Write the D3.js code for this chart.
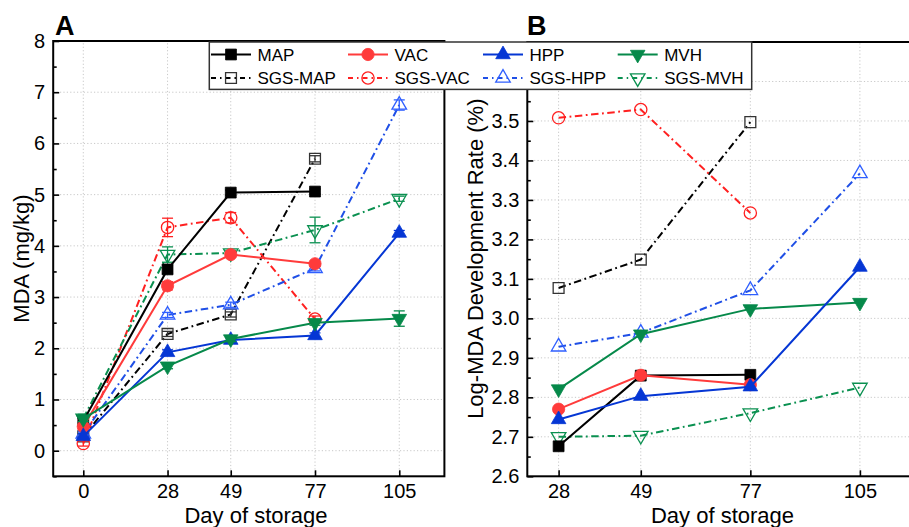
<!DOCTYPE html>
<html><head><meta charset="utf-8">
<script src="https://cdn.jsdelivr.net/npm/d3@7"></script>
<style>body{margin:0;background:#fff}svg{display:block;font-family:"Liberation Sans",Arial,sans-serif}</style>
</head><body><svg id="c" width="909" height="527"></svg>
<script>
// ---------- data ----------
const daysA = [0, 28, 49, 77, 105];
const daysB = [28, 49, 77, 105];
const yTicksA = [0, 1, 2, 3, 4, 5, 6, 7, 8];
const yTicksB = [2.6, 2.7, 2.8, 2.9, 3.0, 3.1, 3.2, 3.3, 3.4, 3.5, 3.6];
const seriesNames = ["MAP", "VAC", "HPP", "MVH", "SGS-MAP", "SGS-VAC", "SGS-HPP", "SGS-MVH"];

// Panel A: MDA (mg/kg)
const mdaMAP    = [0.58, 3.54, 5.04, 5.06];
const mdaVAC    = [0.47, 3.22, 3.83, 3.65];
const mdaHPP    = [0.28, 1.92, 2.16, 2.25, 4.25];
const mdaMVH    = [0.62, 1.65, 2.18, 2.50, 2.58];
const mdaSgsMAP = [0.28, 2.28, 2.66, 5.70];
const mdaSgsVAC = [0.14, 4.36, 4.55, 2.57];
const mdaSgsHPP = [0.33, 2.65, 2.85, 3.56, 6.75];
const mdaSgsMVH = [0.63, 3.83, 3.86, 4.31, 4.92];
// Panel A error bars
const errMAP    = [0.05, 0.08, 0.05, 0.05];
const errVAC    = [0.05, 0.08, 0.05, 0.05];
const errHPP    = [0.05, 0.05, 0.05, 0.05, 0.05];
const errMVH    = [0.05, 0.05, 0.05, 0.05, 0.15];
const errSgsMAP = [0.05, 0.05, 0.05, 0.06];
const errSgsVAC = [0.05, 0.18, 0.10, 0.06];
const errSgsHPP = [0.05, 0.05, 0.05, 0.05, 0.10];
const errSgsMVH = [0.08, 0.15, 0.05, 0.25, 0.05];

// Panel B: Log-MDA development rate (%)
const rateMAP    = [2.676, 2.855, 2.857];
const rateVAC    = [2.770, 2.856, 2.832];
const rateHPP    = [2.744, 2.803, 2.827, 3.130];
const rateMVH    = [2.821, 2.960, 3.024, 3.040];
const rateSgsMAP = [3.077, 3.149, 3.497];
const rateSgsVAC = [3.508, 3.529, 3.267];
const rateSgsHPP = [2.928, 2.963, 3.071, 3.367];
const rateSgsMVH = [2.700, 2.703, 2.760, 2.825];

// ---------- styles ----------
const RED = "#ff3b3b", BLUE = "#0536d4", GREEN = "#06894a";
const style = {
  "MAP":     {color: "#000", sym: "square",  open: false},
  "VAC":     {color: RED,   sym: "circle",  open: false},
  "HPP":     {color: BLUE,  sym: "up",      open: false},
  "MVH":     {color: GREEN, sym: "down",    open: false},
  "SGS-MAP": {color: "#000", sym: "square", open: true, mcolor: "#333"},
  "SGS-VAC": {color: "#ff2020", sym: "circle", open: true},
  "SGS-HPP": {color: "#1f4fe6", sym: "up",  open: true, mcolor: "#2f5fff"},
  "SGS-MVH": {color: "#0a9050", sym: "down", open: true}
};
const DASH = "7.5,3.5,1.8,3.5";

const svg = d3.select("#c");

function symbolPath(sym) {
  if (sym === "square") return d3.symbol(d3.symbolSquare, 118)();
  if (sym === "circle") return d3.symbol(d3.symbolCircle, 118)();
  return d3.symbol(d3.symbolTriangle, 92)();
}
function drawMarker(g, name, x, y) {
  const s = style[name];
  const mc = s.mcolor || s.color;
  g.append("path").attr("d", symbolPath(s.sym))
    .attr("transform", `translate(${x},${y})` + (s.sym === "down" ? " rotate(180)" : ""))
    .attr("fill", s.open ? "none" : s.color)
    .attr("stroke", mc).attr("stroke-width", s.open ? 1.3 : 0.8);
}

function panel(opt) {
  const {x, y, xTicks, yTicks, yMinor, fmt} = opt;
  const [x0, x1] = x.range(), [y0, y1] = y.range();
  const g = svg.append("g");
  // grid
  const grid = g.append("g").attr("stroke", "#c8c8c8").attr("stroke-width", 1).attr("stroke-dasharray", "1.2,2.2");
  grid.selectAll(".gx").data(xTicks).join("line")
    .attr("x1", d => x(d)).attr("x2", d => x(d)).attr("y1", y0).attr("y2", y1);
  grid.selectAll(".gy").data(yTicks.filter(v => y(v) > y1 + 2 && y(v) < y0 - 2)).join("line")
    .attr("x1", x0).attr("x2", x1).attr("y1", d => y(d)).attr("y2", d => y(d));
  // axes
  const ax = g.append("g").attr("transform", `translate(0,${y0})`)
    .call(d3.axisBottom(x).tickValues(xTicks).tickSize(-6).tickPadding(7.5));
  const ay = g.append("g").attr("transform", `translate(${x0},0)`)
    .call(d3.axisLeft(y).tickValues(yTicks).tickFormat(fmt).tickSize(-6).tickPadding(8));
  const aym = g.append("g").attr("transform", `translate(${x0},0)`)
    .call(d3.axisLeft(y).tickValues(yMinor).tickFormat("").tickSize(-3.5));
  [ax, ay, aym].forEach(a => {
    a.select(".domain").remove();
    a.attr("font-size", 20).attr("font-family", null);
    a.selectAll(".tick line").attr("stroke", "#000").attr("stroke-width", 1.6);
    a.selectAll(".tick text").attr("fill", "#000");
  });
  return g;
}

function drawSeries(g, x, y, name, xs, ys, errs) {
  const s = style[name];
  const pts = ys.map((v, i) => [xs[i], v, errs ? errs[i] : 0]);
  g.append("path").datum(pts)
    .attr("d", d3.line().x(d => x(d[0])).y(d => y(d[1])))
    .attr("fill", "none").attr("stroke", s.color)
    .attr("stroke-width", 2)
    .attr("stroke-dasharray", s.open ? DASH : null);
  pts.forEach(p => {
    if (errs) {
      const cx = x(p[0]), ya = y(p[1] + p[2]), yb = y(p[1] - p[2]);
      const eg = g.append("g").attr("stroke", s.mcolor || s.color).attr("stroke-width", 1.3);
      eg.append("line").attr("x1", cx).attr("x2", cx).attr("y1", ya).attr("y2", yb);
      eg.append("line").attr("x1", cx - 5.5).attr("x2", cx + 5.5).attr("y1", ya).attr("y2", ya);
      eg.append("line").attr("x1", cx - 5.5).attr("x2", cx + 5.5).attr("y1", yb).attr("y2", yb);
    }
    drawMarker(g, name, x(p[0]), y(p[1]));
  });
}

// ---------- Panel A ----------
const xA = d3.scaleLinear([-10, 120], [53.2, 444.4]);
const yA = d3.scaleLinear([-0.5, 8], [476.3, 41]);
const gA = panel({x: xA, y: yA, xTicks: daysA, yTicks: yTicksA,
  yMinor: [-0.5, 0.5, 1.5, 2.5, 3.5, 4.5, 5.5, 6.5, 7.5], fmt: d3.format("d")});
const dataA = [
  ["SGS-MAP", mdaSgsMAP, errSgsMAP], ["SGS-VAC", mdaSgsVAC, errSgsVAC],
  ["SGS-HPP", mdaSgsHPP, errSgsHPP], ["SGS-MVH", mdaSgsMVH, errSgsMVH],
  ["MAP", mdaMAP, errMAP], ["VAC", mdaVAC, errVAC],
  ["HPP", mdaHPP, errHPP], ["MVH", mdaMVH, errMVH]
];
dataA.forEach(([n, v, e]) => drawSeries(gA, xA, yA, n, daysA, v, e));
gA.append("rect").attr("x", 53.2).attr("y", 41).attr("width", 444.4 - 53.2).attr("height", 476.3 - 41)
  .attr("fill", "none").attr("stroke", "#000").attr("stroke-width", 2);

// ---------- Panel B ----------
const xB = d3.scaleLinear([20, 120], [527.3, 918.6]);
const yB = d3.scaleLinear([2.6, 3.7], [476.3, 42]);
const gB = panel({x: xB, y: yB, xTicks: daysB, yTicks: yTicksB,
  yMinor: [2.65, 2.75, 2.85, 2.95, 3.05, 3.15, 3.25, 3.35, 3.45, 3.55, 3.65], fmt: d3.format(".1f")});
const dataB = [
  ["SGS-MAP", rateSgsMAP], ["SGS-VAC", rateSgsVAC], ["SGS-HPP", rateSgsHPP], ["SGS-MVH", rateSgsMVH],
  ["MVH", rateMVH], ["MAP", rateMAP], ["VAC", rateVAC], ["HPP", rateHPP]
];
dataB.forEach(([n, v]) => drawSeries(gB, xB, yB, n, daysB, v, null));
gB.append("rect").attr("x", 527.3).attr("y", 42).attr("width", 918.6 - 527.3).attr("height", 476.3 - 42)
  .attr("fill", "none").attr("stroke", "#000").attr("stroke-width", 2);

// ---------- titles ----------
svg.append("text").attr("x", 256).attr("y", 523).attr("text-anchor", "middle").attr("font-size", 22).text("Day of storage");
svg.append("text").attr("x", 722.5).attr("y", 523).attr("text-anchor", "middle").attr("font-size", 22).text("Day of storage");
svg.append("text").attr("transform", "translate(28.5,258.5) rotate(-90)").attr("text-anchor", "middle").attr("font-size", 22).text("MDA (mg/kg)");
svg.append("text").attr("transform", "translate(482.5,258.7) rotate(-90)").attr("text-anchor", "middle").attr("font-size", 22).text("Log-MDA Development Rate (%)");
svg.append("text").attr("x", 55).attr("y", 34.6).attr("font-size", 27).attr("font-weight", "bold").text("A");
svg.append("text").attr("x", 527).attr("y", 34.6).attr("font-size", 27).attr("font-weight", "bold").text("B");

// ---------- legend ----------
const lg = svg.append("g");
lg.append("rect").attr("x", 209.3).attr("y", 42).attr("width", 542.4).attr("height", 47.4)
  .attr("fill", "#fff").attr("stroke", "#333").attr("stroke-width", 1.5);
const colX = [231, 368, 503, 637.7];
const rowY = [54.5, 78];
seriesNames.forEach((n, i) => {
  const cx = colX[i % 4], cy = rowY[Math.floor(i / 4)];
  const s = style[n];
  lg.append("line").attr("x1", cx - 20).attr("x2", cx + 20).attr("y1", cy).attr("y2", cy)
    .attr("stroke", s.color).attr("stroke-width", 2)
    .attr("stroke-dasharray", s.open ? "5,4,1.5,4" : null);
  drawMarker(lg, n, cx, cy);
  lg.append("text").attr("x", cx + 26.5).attr("y", cy + 6).attr("font-size", 17).text(n);
});
</script></body></html>
